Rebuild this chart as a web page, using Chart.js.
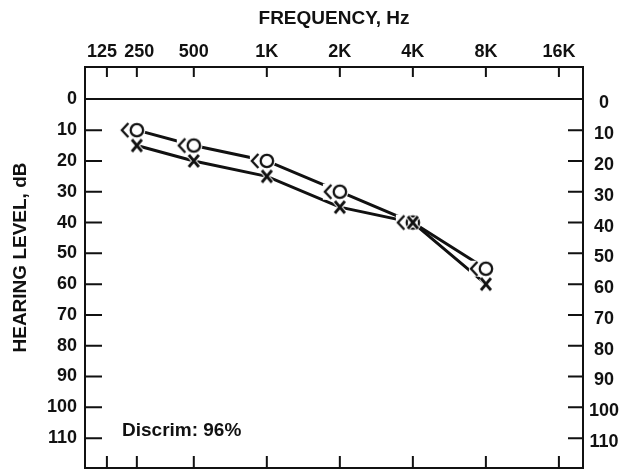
<!DOCTYPE html>
<html>
<head>
<meta charset="utf-8">
<script src="https://cdn.jsdelivr.net/npm/chart.js@4.4.1/dist/chart.umd.min.js"></script>
<style>
  html, body { margin: 0; padding: 0; background: #fff; }
</style>
</head>
<body>
<canvas id="grafico" width="624" height="475"></canvas>
<script>
// DATI
const freqLabels = ['125', '250', '500', '1K', '2K', '4K', '8K', '16K'];
const freqs = [125, 250, 500, 1000, 2000, 4000, 8000, 16000];
const testFreqs = [250, 500, 1000, 2000, 4000, 8000];
const orecchioO = [10, 15, 20, 30, 40, 55];   // simbolo <O
const orecchioX = [15, 20, 25, 35, 40, 60];   // simbolo X
const dbTicks = [0, 10, 20, 30, 40, 50, 60, 70, 80, 90, 100, 110];
const discrimTesto = 'Discrim: 96%';

const FONT = "'Liberation Sans', Arial, Helvetica, sans-serif";
const NERO = '#111';

// il modulo stampato comprime le ottave sotto i 500 Hz
const ottaveBasse = { 125: -1.19, 250: -0.78 };
function posFreq(f) {
  return f >= 500 ? Math.log2(f / 500) : ottaveBasse[f];
}

function punti(valori) {
  return testFreqs.map((f, i) => ({ x: posFreq(f), y: valori[i] }));
}

// SIMBOLI
function simboloO() {
  const c = document.createElement('canvas');
  c.width = 40; c.height = 22;
  const ctx = c.getContext('2d');
  const cx = 20, cy = 11;
  ctx.fillStyle = '#fff';
  ctx.beginPath();
  ctx.arc(cx, cy, 8.5, 0, Math.PI * 2);
  ctx.fill();
  ctx.fillRect(cx - 17, cy - 8, 17, 16);
  ctx.strokeStyle = NERO;
  ctx.lineWidth = 2.3;
  ctx.beginPath();
  ctx.arc(cx, cy, 6.2, 0, Math.PI * 2);
  ctx.stroke();
  ctx.beginPath();
  ctx.moveTo(cx - 8.5, cy - 7);
  ctx.lineTo(cx - 15, cy);
  ctx.lineTo(cx - 8.5, cy + 7);
  ctx.stroke();
  return c;
}

function simboloX() {
  const c = document.createElement('canvas');
  c.width = 20; c.height = 20;
  const ctx = c.getContext('2d');
  const cx = 10, cy = 10;
  const tratto = () => {
    ctx.beginPath();
    ctx.moveTo(cx - 5, cy - 6);
    ctx.lineTo(cx + 5, cy + 6);
    ctx.moveTo(cx + 5, cy - 6);
    ctx.lineTo(cx - 5, cy + 6);
    ctx.stroke();
  };
  ctx.strokeStyle = '#fff';
  ctx.lineWidth = 5;
  tratto();
  ctx.strokeStyle = NERO;
  ctx.lineWidth = 2.8;
  tratto();
  return c;
}

// CORNICE, TACCHE E TESTI
const cornice = {
  id: 'cornice',
  beforeDatasetsDraw(chart) {
    const { ctx, chartArea: a } = chart;
    const xs = chart.scales.x, ys = chart.scales.y;
    ctx.save();
    ctx.strokeStyle = NERO;
    ctx.lineWidth = 2;
    ctx.strokeRect(a.left, a.top, a.right - a.left, a.bottom - a.top);
    ctx.beginPath();
    xs.ticks.forEach(t => {
      const px = xs.getPixelForValue(t.value);
      ctx.moveTo(px, a.top); ctx.lineTo(px, a.top + 10);
      ctx.moveTo(px, a.bottom); ctx.lineTo(px, a.bottom - 12);
    });
    ys.ticks.forEach(t => {
      if (t.value === 0) return;
      const py = ys.getPixelForValue(t.value);
      ctx.moveTo(a.left, py); ctx.lineTo(a.left + 17, py);
      ctx.moveTo(a.right - 15, py); ctx.lineTo(a.right, py);
    });
    ctx.stroke();
    ctx.restore();
  },
  afterDraw(chart) {
    const { ctx, chartArea: a } = chart;
    ctx.save();
    ctx.fillStyle = NERO;
    ctx.font = 'bold 19px ' + FONT;
    ctx.textAlign = 'left';
    ctx.textBaseline = 'middle';
    ctx.fillText(discrimTesto, a.left + 37, chart.scales.y.getPixelForValue(107.5));
    // titolo asse verticale
    ctx.translate(21, (a.top + a.bottom) / 2 - 10);
    ctx.rotate(-Math.PI / 2);
    ctx.textAlign = 'center';
    ctx.fillText('HEARING LEVEL, dB', 0, 0);
    ctx.restore();
  }
};

// GRAFICO
const canvas = document.getElementById('grafico');
const tickFont = { family: FONT, size: 18, weight: 'bold' };
const titleFont = { family: FONT, size: 19, weight: 'bold' };

// 125 e 250 sono stampati leggermente discosti dalle tacche
function etichettaFreq(v, i) {
  if (i === 0) return freqLabels[i] + '  ';
  if (i === 1) return ' ' + freqLabels[i];
  return freqLabels[i];
}

new Chart(canvas, {
  type: 'line',
  data: {
    datasets: [
      { data: punti(orecchioO), borderColor: NERO, borderWidth: 3, pointRadius: 0, order: 4 },
      { data: punti(orecchioX), borderColor: NERO, borderWidth: 3, pointRadius: 0, order: 3 },
      { data: punti(orecchioO), showLine: false, pointStyle: simboloO(), pointRadius: 6, order: 2 },
      { data: punti(orecchioX), showLine: false, pointStyle: simboloX(), pointRadius: 6, order: 1 }
    ]
  },
  options: {
    responsive: false,
    animation: false,
    devicePixelRatio: 1,
    layout: { padding: { left: 0, right: 0, top: 0, bottom: 4 } },
    plugins: { legend: { display: false }, tooltip: { enabled: false } },
    scales: {
      x: {
        type: 'linear',
        position: 'top',
        min: -1.49,
        max: 5.33,
        afterBuildTicks: s => { s.ticks = freqs.map(f => ({ value: posFreq(f) })); },
        afterFit: s => { s.height = 67; s.paddingLeft = 0; s.paddingRight = 0; },
        ticks: {
          font: tickFont, color: NERO, padding: 4, maxRotation: 0, autoSkip: false,
          callback: etichettaFreq
        },
        grid: { display: false, drawTicks: false },
        border: { display: false },
        title: { display: true, text: 'FREQUENCY, Hz', font: titleFont, color: NERO, padding: { top: 7, bottom: 0 } }
      },
      y: {
        type: 'linear',
        position: 'left',
        reverse: true,
        min: -10.5,
        max: 119.7,
        afterBuildTicks: s => { s.ticks = dbTicks.map(v => ({ value: v })); },
        afterFit: s => { s.width = 85; s.paddingTop = 0; s.paddingBottom = 0; },
        ticks: { font: tickFont, color: NERO, padding: 8 },
        grid: {
          drawTicks: false,
          lineWidth: 2,
          color: c => (c.tick && c.tick.value === 0) ? NERO : 'rgba(0,0,0,0)'
        },
        border: { display: false }
      },
      y2: {
        type: 'linear',
        position: 'right',
        reverse: true,
        min: -10.5,
        max: 119.7,
        afterBuildTicks: s => { s.ticks = dbTicks.map(v => ({ value: v })); },
        afterFit: s => { s.width = 41; s.paddingTop = 0; s.paddingBottom = 0; },
        ticks: { font: tickFont, color: NERO, padding: 6, crossAlign: 'center', labelOffset: 4 },
        grid: { display: false, drawTicks: false },
        border: { display: false }
      }
    }
  },
  plugins: [cornice]
});
</script>
</body>
</html>
